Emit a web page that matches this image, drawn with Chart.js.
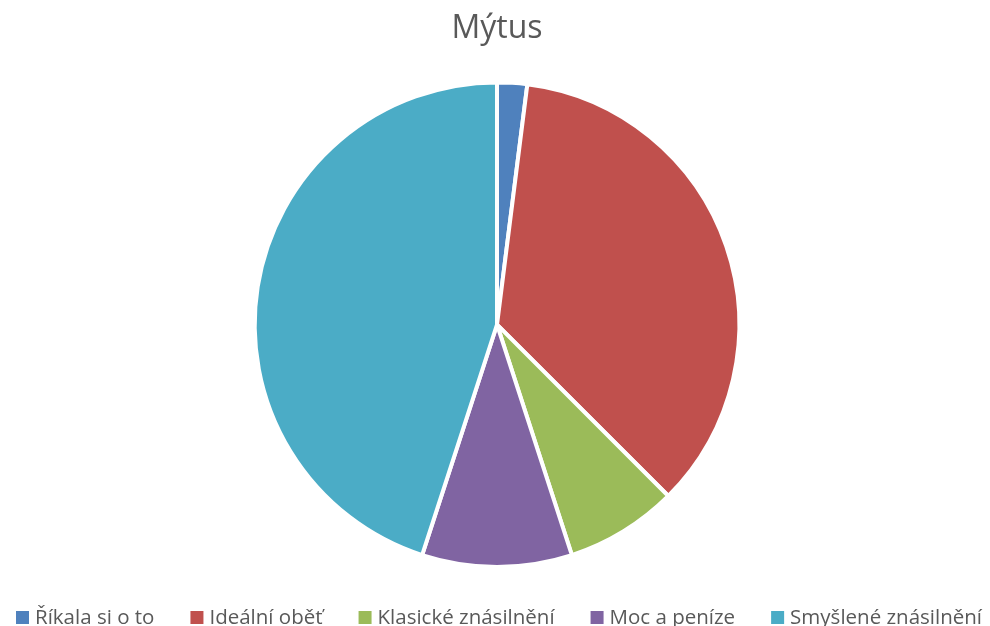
<!DOCTYPE html>
<html><head><meta charset="utf-8">
<script src="https://cdn.jsdelivr.net/npm/chart.js@4/dist/chart.umd.min.js"></script>
<style>html,body{margin:0;padding:0;background:#fff;overflow:hidden}#wrap{width:990px;height:626px;position:relative}</style>
</head><body><div id="wrap"><canvas id="c"></canvas></div>
<script>
const title = "Mýtus";
const categories = ["Říkala si o to", "Ideální oběť", "Klasické znásilnění", "Moc a peníze", "Smyšlené znásilnění"];
const values = [2, 35.5, 7.5, 10, 45];
const colors = ["#4F81BD", "#C0504D", "#9BBB59", "#8064A2", "#4BACC6"];

const bottomLegend = {
  id: 'bottomLegend',
  afterDraw(chart) {
    const ctx = chart.ctx;
    const labels = chart.data.labels;
    const bg = chart.data.datasets[0].backgroundColor;
    ctx.save();
    ctx.font = '20.5px "Open Sans"';
    ctx.textBaseline = 'alphabetic';
    ctx.textAlign = 'left';
    const box = 13, gapText = 6, gapItem = 36;
    const widths = labels.map(l => ctx.measureText(l).width);
    let total = widths.reduce((a, w) => a + box + gapText + w, 0) + gapItem * (labels.length - 1);
    let x = 499 - total / 2;
    const baseline = 624;
    labels.forEach((l, i) => {
      ctx.fillStyle = bg[i];
      ctx.fillRect(x, 611, box, box);
      ctx.fillStyle = '#595959';
      ctx.fillText(l, x + box + gapText, baseline);
      x += box + gapText + widths[i] + gapItem;
    });
    ctx.restore();
  }
};

new Chart(document.getElementById('c'), {
  type: 'pie',
  data: { labels: categories, datasets: [{ data: values, backgroundColor: colors, borderColor: '#ffffff', borderWidth: 4 }] },
  options: {
    responsive: true, maintainAspectRatio: false, animation: false,
    layout: { padding: { left: 4, right: 0, top: 0, bottom: 57 } },
    plugins: {
      title: { display: true, text: title, color: '#595959', font: { family: 'Open Sans', size: 32, weight: 'normal' }, padding: { top: 10, bottom: 32 } },
      legend: { display: false },
      tooltip: { enabled: false }
    }
  },
  plugins: [bottomLegend]
});
</script></body></html>
